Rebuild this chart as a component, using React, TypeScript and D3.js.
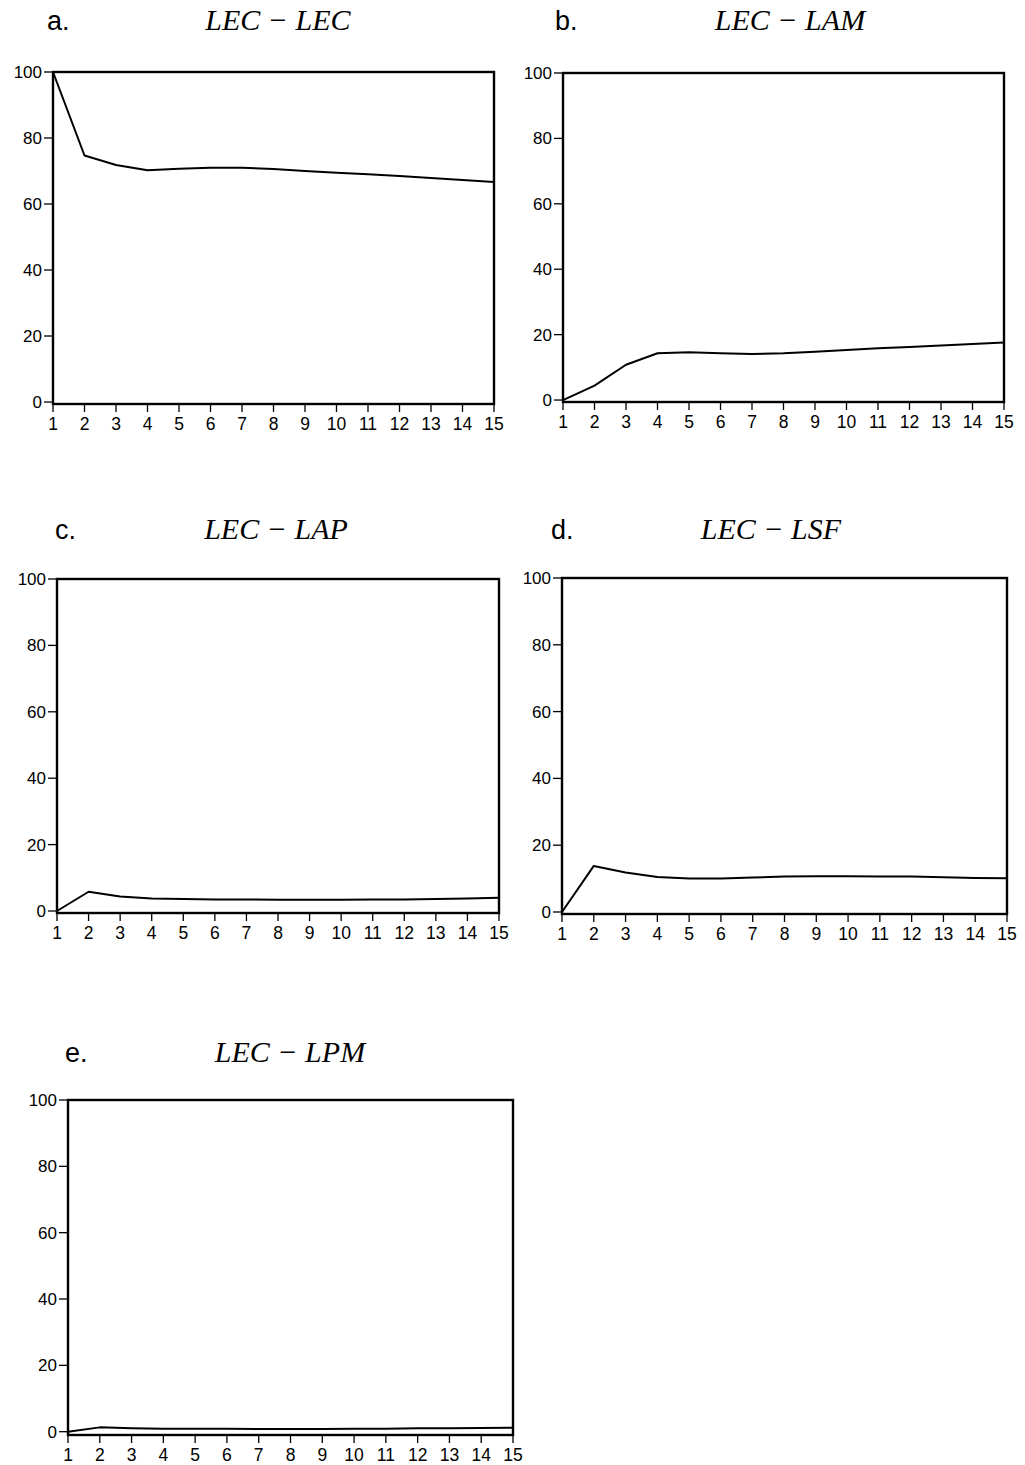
import React from "react";
import * as d3 from "d3";

const periods = [1, 2, 3, 4, 5, 6, 7, 8, 9, 10, 11, 12, 13, 14, 15];
const yTicks = [0, 20, 40, 60, 80, 100];

const lecLec = [100, 74.7, 71.8, 70.2, 70.7, 71.0, 71.0, 70.6, 70.0, 69.5, 69.0, 68.5, 67.9, 67.3, 66.7];
const lecLam = [0, 4.4, 10.8, 14.3, 14.6, 14.3, 14.1, 14.3, 14.8, 15.3, 15.8, 16.2, 16.7, 17.1, 17.6];
const lecLap = [0, 5.8, 4.4, 3.8, 3.6, 3.5, 3.5, 3.4, 3.4, 3.4, 3.5, 3.5, 3.6, 3.8, 4.0];
const lecLsf = [0, 13.8, 11.8, 10.5, 10.0, 10.0, 10.3, 10.6, 10.7, 10.7, 10.6, 10.6, 10.4, 10.2, 10.1];
const lecLpm = [0, 1.3, 1.0, 0.9, 0.9, 0.9, 0.8, 0.8, 0.8, 0.9, 0.9, 1.0, 1.0, 1.1, 1.2];

const panelLetters = ["a.", "b.", "c.", "d.", "e."];
const panelTitles = ["LEC \u2212 LEC", "LEC \u2212 LAM", "LEC \u2212 LAP", "LEC \u2212 LSF", "LEC \u2212 LPM"];
const panelSeries = [lecLec, lecLam, lecLap, lecLsf, lecLpm];

// layout: left, right, top, bottom, letterX, letterY, titleX, titleY, lower y bound
const layouts = [
  { l: 53, r: 494, t: 72, b: 404, lx: 47, ly: 30, tx: 278, ty: 30, y0: -0.6 },
  { l: 563, r: 1004, t: 73, b: 402, lx: 555, ly: 30, tx: 790, ty: 30, y0: -0.6 },
  { l: 57, r: 499, t: 579, b: 913, lx: 55, ly: 539, tx: 276, ty: 539, y0: -0.6 },
  { l: 562, r: 1007, t: 578, b: 914, lx: 551, ly: 539, tx: 771, ty: 539, y0: -0.6 },
  { l: 68, r: 513, t: 1100, b: 1435, lx: 65, ly: 1062, tx: 290, ty: 1062, y0: -1 },
];

function Panel({ idx }: { idx: number }) {
  const L = layouts[idx];
  const data = panelSeries[idx];
  const x = d3.scaleLinear().domain([1, 15]).range([L.l, L.r]);
  const y = d3.scaleLinear().domain([L.y0, 100]).range([L.b, L.t]);
  const line = d3
    .line<number>()
    .x((_, i) => x(periods[i]))
    .y((v) => y(v));
  return (
    <g>
      <text x={L.lx} y={L.ly} fontFamily="Liberation Sans, Arial, sans-serif" fontSize={27} fill="#000">
        {panelLetters[idx]}
      </text>
      <text
        x={L.tx}
        y={L.ty}
        textAnchor="middle"
        fontFamily="Liberation Serif, Times New Roman, serif"
        fontStyle="italic"
        fontSize={30}
        fill="#000"
      >
        {panelTitles[idx]}
      </text>
      <path d={line(data) || ""} fill="none" stroke="#000" strokeWidth={2} strokeLinejoin="round" />
      <rect x={L.l} y={L.t} width={L.r - L.l} height={L.b - L.t} fill="none" stroke="#000" strokeWidth={2.4} />
      {yTicks.map((v) => (
        <g key={"y" + v}>
          <line x1={L.l - 9} x2={L.l} y1={y(v)} y2={y(v)} stroke="#000" strokeWidth={1.3} />
          <text
            x={L.l - 11}
            y={y(v) + 6}
            textAnchor="end"
            fontFamily="Liberation Sans, Arial, sans-serif"
            fontSize={17}
            fill="#000"
          >
            {v}
          </text>
        </g>
      ))}
      {periods.map((p) => (
        <g key={"x" + p}>
          <line x1={x(p)} x2={x(p)} y1={L.b} y2={L.b + 8} stroke="#000" strokeWidth={1.3} />
          <text
            x={x(p)}
            y={L.b + 26}
            textAnchor="middle"
            fontFamily="Liberation Sans, Arial, sans-serif"
            fontSize={17.5}
            fill="#000"
          >
            {p}
          </text>
        </g>
      ))}
    </g>
  );
}

export default function App() {
  return (
    <svg
      width={1025}
      height={1465}
      viewBox="0 0 1025 1465"
      style={{ position: "absolute", left: 0, top: 0, background: "#fff" }}
    >
      <rect x={0} y={0} width={1025} height={1465} fill="#fff" />
      {panelTitles.map((_, i) => (
        <Panel key={i} idx={i} />
      ))}
    </svg>
  );
}
